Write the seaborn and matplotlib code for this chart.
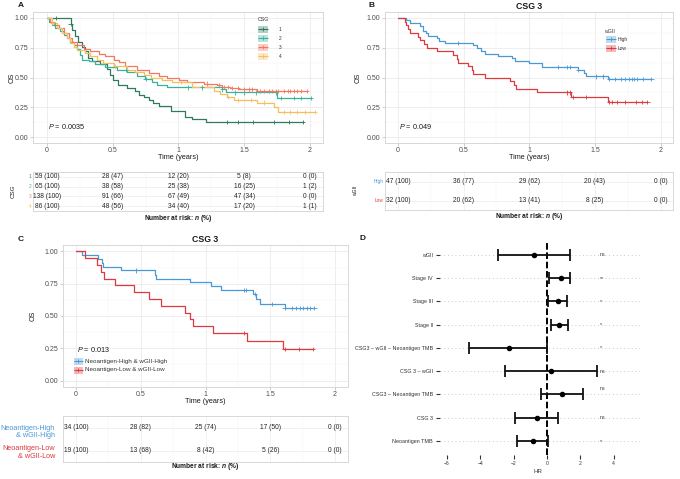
import numpy as np
import pandas as pd
import matplotlib
matplotlib.use("Agg")
import matplotlib.pyplot as plt
from matplotlib.patches import Rectangle
import seaborn as sns

# ---------------- data ----------------
# Panel A : Kaplan-Meier steps per CSG group
a_groups = ["1", "2", "3", "4"]
a1_time = [0, 0.18, 0.19, 0.215, 0.235, 0.265, 0.29, 0.315, 0.345, 0.405, 0.455, 0.48, 0.505, 0.54, 0.61,
           0.67, 0.70, 0.735, 0.775, 0.81, 0.85, 0.94, 1.05, 1.10, 1.21]
a1_surv = [1.0, 0.95, 0.90, 0.85, 0.80, 0.76, 0.72, 0.66, 0.635, 0.61, 0.57, 0.525, 0.48, 0.44, 0.41,
           0.385, 0.355, 0.335, 0.31, 0.285, 0.26, 0.215, 0.17, 0.15, 0.125]
a1_end = 1.95
a1_cens = [0.07, 0.18, 1.37, 1.45, 1.57, 1.73, 1.84, 1.95]

a2_time = [0, 0.013, 0.038, 0.063, 0.10, 0.127, 0.152, 0.178, 0.203, 0.228, 0.254, 0.266, 0.317, 0.368,
           0.444, 0.533, 0.609, 0.685, 0.749, 0.80, 0.838, 0.914, 1.33, 1.36, 1.75]
a2_surv = [1.0, 0.97, 0.944, 0.916, 0.888, 0.86, 0.83, 0.80, 0.776, 0.74, 0.69, 0.65, 0.636, 0.616,
           0.588, 0.566, 0.543, 0.515, 0.487, 0.46, 0.44, 0.417, 0.40, 0.375, 0.33]
a2_end = 2.01
a2_cens = [0.06, 0.60, 0.75, 1.07, 1.18, 1.33, 1.43, 1.50, 1.59, 1.74, 1.78, 1.88, 1.93, 2.01]

a3_time = [0, 0.025, 0.05, 0.09, 0.127, 0.165, 0.19, 0.228, 0.279, 0.33, 0.393, 0.444, 0.508, 0.546,
           0.596, 0.685, 0.774, 0.85, 0.914, 1.003, 1.066, 1.193, 1.294, 1.332, 1.396, 1.459, 1.599]
a3_surv = [1.0, 0.97, 0.944, 0.916, 0.874, 0.83, 0.80, 0.776, 0.74, 0.72, 0.70, 0.68, 0.65, 0.627,
           0.594, 0.566, 0.538, 0.515, 0.496, 0.476, 0.46, 0.448, 0.437, 0.42, 0.41, 0.40, 0.385]
a3_end = 1.98
a3_cens = [1.22, 1.31, 1.35, 1.38, 1.41, 1.45, 1.50, 1.54, 1.56, 1.62, 1.65, 1.69, 1.71, 1.74, 1.76,
           1.80, 1.83, 1.85, 1.88, 1.90, 1.93, 1.98]

a4_time = [0, 0.04, 0.075, 0.115, 0.15, 0.178, 0.203, 0.228, 0.29, 0.33, 0.38, 0.43, 0.51, 0.61, 0.67,
           0.736, 0.79, 0.875, 0.95, 1.10, 1.27, 1.32, 1.37, 1.42, 1.60, 1.73, 1.76]
a4_surv = [1.0, 0.958, 0.916, 0.874, 0.83, 0.79, 0.756, 0.734, 0.706, 0.678, 0.65, 0.62, 0.594, 0.566,
           0.543, 0.524, 0.496, 0.476, 0.46, 0.42, 0.39, 0.36, 0.335, 0.31, 0.29, 0.25, 0.21]
a4_end = 2.04
a4_cens = [0.04, 0.52, 1.02, 1.38, 1.45, 1.55, 1.65, 1.80, 1.85, 1.90, 1.96, 2.04]

# Panel B : CSG 3 by wGII
b_groups = ["High", "Low"]
bh_time = [0, 0.06, 0.09, 0.17, 0.19, 0.21, 0.23, 0.30, 0.31, 0.36, 0.57, 0.60, 0.63, 0.66, 0.76, 0.87,
           0.89, 1.0, 1.1, 1.37, 1.42, 1.43, 1.6]
bh_surv = [1.0, 0.98, 0.957, 0.935, 0.89, 0.87, 0.85, 0.83, 0.81, 0.79, 0.77, 0.745, 0.72, 0.70, 0.68,
           0.66, 0.64, 0.62, 0.59, 0.567, 0.54, 0.51, 0.485]
bh_end = 1.93
bh_cens = [0.46, 1.22, 1.29, 1.31, 1.37, 1.51, 1.56, 1.61, 1.65, 1.70, 1.73, 1.76, 1.78, 1.80, 1.82, 1.87, 1.93]

bl_time = [0, 0.05, 0.06, 0.08, 0.09, 0.15, 0.17, 0.20, 0.22, 0.30, 0.42, 0.45, 0.46, 0.53, 0.56, 0.57,
           0.66, 0.85, 0.88, 0.90, 1.06, 1.32, 1.6]
bl_surv = [1.0, 0.969, 0.938, 0.906, 0.875, 0.844, 0.812, 0.781, 0.75, 0.719, 0.688, 0.656, 0.625, 0.594,
           0.562, 0.531, 0.50, 0.469, 0.438, 0.406, 0.375, 0.337, 0.295]
bl_end = 1.90
bl_cens = [1.29, 1.31, 1.33, 1.43, 1.61, 1.63, 1.67, 1.73, 1.81, 1.86, 1.90]

# Panel C : CSG 3, Neoantigen x wGII
c_groups = ["Neoantigen-High & wGII-High", "Neoantigen-Low & wGII-Low"]
ch_time = [0, 0.045, 0.17, 0.20, 0.21, 0.35, 0.61, 0.62, 0.88, 1.04, 1.12, 1.37, 1.39, 1.42, 1.61]
ch_surv = [1.0, 0.971, 0.941, 0.912, 0.882, 0.853, 0.82, 0.79, 0.76, 0.73, 0.70, 0.67, 0.635, 0.595, 0.56]
ch_end = 1.84
ch_cens = [0.46, 1.30, 1.31, 1.38, 1.51, 1.61, 1.67, 1.70, 1.73, 1.75, 1.78, 1.81, 1.84]

cl_time = [0, 0.07, 0.16, 0.19, 0.22, 0.30, 0.45, 0.56, 0.66, 0.84, 0.88, 0.90, 1.06, 1.32, 1.60]
cl_surv = [1.0, 0.947, 0.895, 0.842, 0.789, 0.737, 0.684, 0.632, 0.579, 0.526, 0.474, 0.421, 0.368, 0.307, 0.245]
cl_end = 1.83
cl_cens = [1.30, 1.61, 1.72, 1.83]

# Number-at-risk tables
risk_times = [0, 0.5, 1, 1.5, 2]
a_risk_n = [[59, 28, 12, 5, 0], [65, 38, 25, 16, 1], [138, 91, 67, 47, 0], [86, 48, 34, 17, 1]]
a_risk_p = [[100, 47, 20, 8, 0], [100, 58, 38, 25, 2], [100, 66, 49, 34, 0], [100, 56, 40, 20, 1]]
b_risk_n = [[47, 36, 29, 20, 0], [32, 20, 13, 8, 0]]
b_risk_p = [[100, 77, 62, 43, 0], [100, 62, 41, 25, 0]]
c_risk_n = [[34, 28, 25, 17, 0], [19, 13, 8, 5, 0]]
c_risk_p = [[100, 82, 74, 50, 0], [100, 68, 42, 26, 0]]

p_values = ["0.0035", "0.049", "0.013"]

# Panel D : forest plot (bottom -> top)
d_terms = ["Neoantigen TMB", "CSG 3", "CSG3 \u2013 Neoantigen TMB", "CSG 3 \u2013 wGII",
           "CSG3 \u2013 wGII \u2013 Neoantigen TMB", "Stage II", "Stage III", "Stage IV", "wGII"]
d_est = [-0.84, -0.60, 0.90, 0.25, -2.30, 0.70, 0.66, 0.84, -0.78]
d_low = [-1.80, -1.90, -0.36, -2.50, -4.70, 0.24, 0.08, 0.12, -2.93]
d_high = [0.06, 0.66, 2.16, 3.00, 0.00, 1.26, 1.18, 1.38, 1.38]
d_sig = ["*", "ns", "ns", "ns", "*", "*", "*", "**", "ns"]
d_ticks = [-6, -4, -2, 0, 2, 4]

# ---------------- style ----------------
sns.set_theme(style="white")
plt.rcParams["font.family"] = ["Liberation Sans", "DejaVu Sans"]
plt.rcParams["mathtext.fontset"] = "custom"
plt.rcParams["mathtext.rm"] = "Liberation Sans"
plt.rcParams["mathtext.it"] = "Liberation Sans:italic"
plt.rcParams["mathtext.bf"] = "Liberation Sans:bold"
plt.rcParams["mathtext.bfit"] = "Liberation Sans:italic:bold"

A_COL = {"1": "#2E7A5E", "2": "#38B39B", "3": "#F4785F", "4": "#F6BE5E"}
B_COL = {"High": "#4A98D6", "Low": "#DD3A3F"}
C_COL = {c_groups[0]: "#4A98D6", c_groups[1]: "#DD3A3F"}

W, H = 680, 479
fig = plt.figure(figsize=(W / 100, H / 100), dpi=100)
fig.patch.set_facecolor("white")


def ax_px(l, t, r, b):
    return fig.add_axes([l / W, 1 - b / H, (r - l) / W, (b - t) / H])


def km_frames(names, times, survs, ends, cens):
    lines, marks = [], []
    for n, t, s, e, c in zip(names, times, survs, ends, cens):
        lines.append(pd.DataFrame({"time": list(t) + [e], "surv": list(s) + [s[-1]], "group": n}))
        idx = np.searchsorted(np.array(t), np.array(c), side="right") - 1
        marks.append(pd.DataFrame({"time": c, "surv": np.array(s)[idx], "group": n}))
    return pd.concat(lines, ignore_index=True), pd.concat(marks, ignore_index=True)


def style_grid(ax, xlim, ylim):
    ax.set_xlim(*xlim)
    ax.set_ylim(*ylim)
    ax.set_facecolor("white")
    for sp in ax.spines.values():
        sp.set_visible(True)
        sp.set_color("#d2d2d2")
        sp.set_linewidth(0.6)
    ax.set_axisbelow(True)
    ax.set_xlabel("")
    ax.set_ylabel("")


def draw_km(ax, names, times, survs, ends, cens, pal, xlim):
    ldf, cdf = km_frames(names, times, survs, ends, cens)
    sns.lineplot(data=ldf, x="time", y="surv", hue="group", hue_order=names, palette=pal,
                 estimator=None, sort=False, drawstyle="steps-post", linewidth=0.9,
                 legend=False, ax=ax)
    sns.scatterplot(data=cdf, x="time", y="surv", hue="group", hue_order=names, palette=pal,
                    marker="+", s=10, linewidth=0.6, legend=False, ax=ax, zorder=4)
    style_grid(ax, xlim, (-0.05, 1.05))
    ax.set_xticks([0, 0.5, 1, 1.5, 2])
    ax.set_xticklabels(["0", "0.5", "1", "1.5", "2"])
    ax.set_yticks([0, 0.25, 0.5, 0.75, 1.0])
    ax.set_yticklabels(["0.00", "0.25", "0.50", "0.75", "1.00"])
    ax.set_xticks(np.arange(0.25, 2.1, 0.5), minor=True)
    ax.set_yticks([0.125, 0.375, 0.625, 0.875], minor=True)
    ax.grid(which="major", color="#e8e8e8", lw=0.5)
    ax.grid(which="minor", color="#f3f3f3", lw=0.35)
    ax.tick_params(which="major", length=2, width=0.5, color="#b8b8b8", labelsize=5.0,
                   labelcolor="#4d4d4d", pad=1.2, left=True, bottom=True)
    ax.tick_params(which="minor", length=0)
    ax.set_xlabel("")
    ax.set_ylabel("")


def draw_risk(ax, rows_n, rows_p, xlim):
    nrow = len(rows_n)
    style_grid(ax, xlim, (nrow + 0.5, 0.5))
    for r, (nn, pp) in enumerate(zip(rows_n, rows_p)):
        for t, n, p in zip(risk_times, nn, pp):
            ax.text(t, r + 1, f"{n} ({p})", ha="center", va="center", fontsize=4.8, color="#262626")
    ax.set_xticks([0, 0.5, 1, 1.5, 2])
    ax.set_xticks(np.arange(0.25, 2.1, 0.5), minor=True)
    ax.set_yticks(np.arange(1, nrow + 1))
    ax.set_xticklabels([])
    ax.set_yticklabels([])
    ax.grid(which="major", color="#ececec", lw=0.5)
    ax.grid(which="minor", axis="x", color="#f5f5f5", lw=0.35)
    ax.tick_params(which="both", length=0)


# ---------------- Panel A ----------------
axA = ax_px(33, 12, 323, 143)
draw_km(axA, a_groups, [a1_time, a2_time, a3_time, a4_time], [a1_surv, a2_surv, a3_surv, a4_surv],
        [a1_end, a2_end, a3_end, a4_end], [a1_cens, a2_cens, a3_cens, a4_cens], A_COL, (-0.106, 2.1))
axAt = ax_px(33, 172, 323, 211)
draw_risk(axAt, a_risk_n, a_risk_p, (-0.106, 2.1))

# ---------------- Panel B ----------------
axB = ax_px(385, 12, 673, 143)
draw_km(axB, b_groups, [bh_time, bl_time], [bh_surv, bl_surv], [bh_end, bl_end], [bh_cens, bl_cens],
        B_COL, (-0.099, 2.095))
axBt = ax_px(385, 172, 673, 210)
draw_risk(axBt, b_risk_n, b_risk_p, (-0.099, 2.095))

# ---------------- Panel C ----------------
axC = ax_px(63, 245, 348, 387)
draw_km(axC, c_groups, [ch_time, cl_time], [ch_surv, cl_surv], [ch_end, cl_end], [ch_cens, cl_cens],
        C_COL, (-0.1, 2.1))
axCt = ax_px(63, 416, 348, 462)
draw_risk(axCt, c_risk_n, c_risk_p, (-0.1, 2.1))

# ---------------- Panel D ----------------
axD = ax_px(440, 242, 640, 455)
ypos = np.arange(1, len(d_terms) + 1)
axD.set_xlim(-6.42, 5.57)
axD.set_ylim(0.4, 9.55)
for y in ypos:
    axD.plot([-6.42, 5.57], [y, y], color="#b8b8b8", lw=0.6, ls=(0, (1, 3.5)), zorder=1)
axD.axvline(0, color="black", lw=1.4, ls=(0, (3.4, 1.4)), zorder=2)
axD.errorbar(d_est, ypos, xerr=[np.array(d_est) - np.array(d_low), np.array(d_high) - np.array(d_est)],
             fmt="none", ecolor="#111111", elinewidth=1.3, capsize=4.2, capthick=1.3, zorder=3)
ddf = pd.DataFrame({"est": d_est, "y": ypos})
sns.scatterplot(data=ddf, x="est", y="y", color="black", s=16, edgecolor="black", linewidth=0,
                legend=False, ax=axD, zorder=4)
for y, s in zip(ypos, d_sig):
    off = 0.25 if y == 3 else 0.0
    axD.text(3.15, y + off, s, fontsize=3.8, color="#333333", ha="left", va="center")
for sp in axD.spines.values():
    sp.set_visible(False)
axD.set_yticks(ypos)
axD.set_yticklabels(d_terms)
axD.set_xticks(d_ticks)
axD.set_xticklabels([str(t).replace("-", "\u2212") for t in d_ticks])
axD.tick_params(axis="y", length=3, width=0.8, color="#333333", labelsize=3.9, labelcolor="#333333",
                pad=2, left=True)
axD.tick_params(axis="x", length=3, width=0.8, color="#333333", labelsize=3.6, labelcolor="#333333",
                pad=1.5, bottom=True)
axD.set_xlabel("")
axD.set_ylabel("")
axD.set_facecolor("none")

# ---------------- overlay text & legends ----------------
ov = fig.add_axes([0, 0, 1, 1])
ov.set_xlim(0, W)
ov.set_ylim(H, 0)
ov.axis("off")
ov.patch.set_alpha(0)

txt = dict(color="#1a1a1a")
ov.text(20.5, 5, "A", fontsize=6, fontweight="bold", ha="center", va="center", **txt)
ov.text(371.5, 5, "B", fontsize=6, fontweight="bold", ha="center", va="center", **txt)
ov.text(20.5, 239, "C", fontsize=6, fontweight="bold", ha="center", va="center", **txt)
ov.text(362, 238, "D", fontsize=6, fontweight="bold", ha="center", va="center", **txt)

ov.text(529, 6.5, "CSG 3", fontsize=6.3, fontweight="bold", ha="center", va="center", **txt)
ov.text(205.5, 239, "CSG 3", fontsize=6.3, fontweight="bold", ha="center", va="center", **txt)

for x, y in [(178, 157.5), (529, 157.5), (205.5, 401.5)]:
    ov.text(x, y, "Time (years)", fontsize=5.2, ha="center", va="center", **txt)
for x, y in [(12, 78), (358, 78), (33, 316)]:
    ov.text(x, y, "OS", fontsize=5.2, rotation=90, ha="center", va="center", **txt)
for x, y in [(178, 218.3), (529, 217), (205.5, 466.5)]:
    ov.text(x, y, r"Number at risk: $\mathbfit{n}$ (%)", fontsize=4.8, fontweight="bold",
            ha="center", va="center", **txt)

ov.text(48, 126, f"$P$ = {p_values[0]}", fontsize=5.2, ha="left", va="center", **txt)
ov.text(399, 126, f"$P$ = {p_values[1]}", fontsize=5.2, ha="left", va="center", **txt)
ov.text(77, 349, f"$P$ = {p_values[2]}", fontsize=5.2, ha="left", va="center", **txt)
ov.text(538, 471.5, "HR", fontsize=4.4, ha="center", va="center", color="#333333")


def legend_key(x, y, color, w=10, h=7):
    ov.add_patch(Rectangle((x, y - h / 2), w, h, facecolor=color, alpha=0.35, edgecolor="none"))
    ov.plot([x, x + w], [y, y], color=color, lw=0.8, solid_capstyle="butt")
    ov.plot([x + w / 2], [y], marker="+", color=color, ms=3.2, mew=0.6, ls="none")


ov.text(258, 19, "CSG", fontsize=3.8, ha="left", va="center", color="#333333")
for g, y in zip(a_groups, [29, 38, 47, 56]):
    legend_key(258, y, A_COL[g])
    ov.text(279, y, g, fontsize=3.5, ha="left", va="center", color="#333333")

ov.text(604, 31, "wGII", fontsize=3.8, ha="left", va="center", color="#333333")
for g, y in zip(b_groups, [39, 48]):
    legend_key(606, y, B_COL[g])
    ov.text(617.5, y, g, fontsize=3.5, ha="left", va="center", color="#333333")

for g, y in zip(c_groups, [361, 370]):
    legend_key(74, y, C_COL[g], w=8.5, h=7)
    ov.text(85, y, g, fontsize=4.5, ha="left", va="center", color="#333333")

# risk-table strata labels
ov.text(13, 191.5, "CSG", fontsize=4.5, rotation=90, ha="center", va="center", **txt)
for g, y in zip(a_groups, [176.9, 186.6, 196.4, 206.1]):
    ov.text(31.5, y, g, fontsize=3.4, ha="right", va="center", color=A_COL[g])
ov.text(356, 191, "wGII", fontsize=3.6, rotation=90, ha="center", va="center", **txt)
for g, y in zip(b_groups, [181.5, 200.5]):
    ov.text(383, y, g, fontsize=3.4, ha="right", va="center", color=B_COL[g])
for g, y in zip(c_groups, [432, 452.5]):
    ov.text(55, y, g.replace(" & ", "\n& "), fontsize=5.2, ha="right", va="center",
            color=C_COL[g], linespacing=1.15, multialignment="right")

fig.savefig("out.png", dpi=100, facecolor="white")
